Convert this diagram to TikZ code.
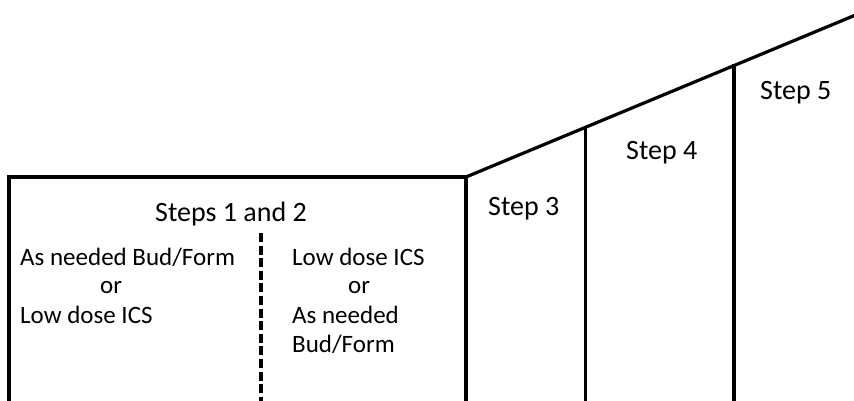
\documentclass[tikz,border=0pt]{standalone}
\usepackage{fontspec}
\setmainfont{Carlito}
\begin{document}
\begin{tikzpicture}[x=1pt,y=-1pt,
  frame/.style={line width=3.2pt,line cap=rect,line join=miter},
  divider/.style={line width=3.2pt,dash pattern=on 9pt off 3.6pt},
  lbl/.style={inner sep=0pt,anchor=base west,font=\fontsize{25}{29}\selectfont},
  steplbl/.style={inner sep=0pt,anchor=base west,font=\fontsize{28}{32}\selectfont},
  title/.style={inner sep=0pt,anchor=base,font=\fontsize{28}{32}\selectfont}]
\useasboundingbox (0,0) rectangle (854,401);
% corner points of the staircase outline
\coordinate (bl) at (9,403);
\coordinate (tl) at (9,177);
\coordinate (tr) at (466,177);
\coordinate (br) at (466,403);
\coordinate (s4t) at (585.5,127.2);
\coordinate (s4b) at (585.5,403);
\coordinate (s5t) at (734,65.5);
\coordinate (s5b) at (734,403);
\coordinate (end) at (858,14);
\coordinate (dt) at (261,233);
\coordinate (db) at (261,403);
% outline and step dividers
\draw[frame] (bl) -- (tl) -- (tr) -- (br);
\draw[frame] (tr) -- (end);
\draw[frame] (s4t) -- (s4b);
\draw[frame] (s5t) -- (s5b);
\draw[divider] (dt) -- (db);
% labels
\node[title] (t12) at (231,221) {Steps 1 and 2};
\node[lbl] (a1) at (20,265) {As needed Bud/Form};
\node[lbl] (a2) at (100,293) {or};
\node[lbl] (a3) at (20,323) {Low dose ICS};
\node[lbl] (b1) at (292,265) {Low dose ICS};
\node[lbl] (b2) at (348,293) {or};
\node[lbl] (b3) at (292,323) {As needed};
\node[lbl] (b4) at (292,352) {Bud/Form};
\node[steplbl] (s3) at (488,215) {Step 3};
\node[steplbl] (s4) at (626,160) {Step 4};
\node[steplbl] (s5) at (760,100) {Step 5};
\end{tikzpicture}
\end{document}
